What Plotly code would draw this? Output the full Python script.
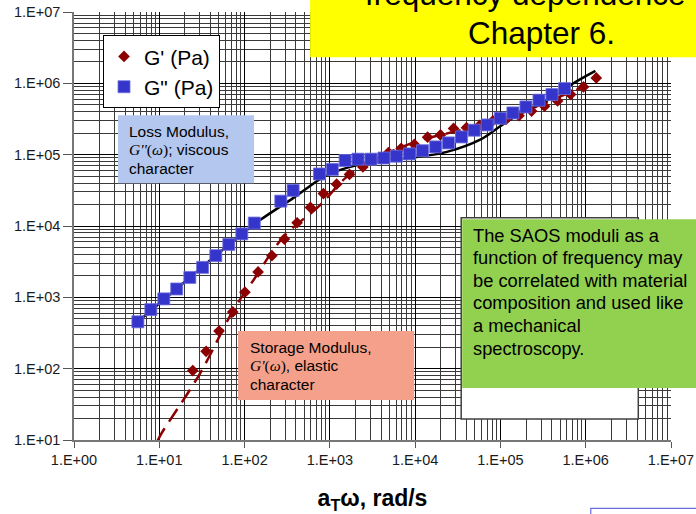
import plotly.graph_objects as go

# Frequency sweep (reduced frequency a_T*omega, rad/s) and moduli, Pa
gp_w = [24.7, 35.4, 50.2, 72.7, 101, 144, 209, 293, 413, 592, 841, 1200, 1700,
        2440, 3440, 4870, 6860, 9800, 14000, 19800, 28200, 40000, 56900, 81700,
        116000, 165000, 232000, 329000, 468000, 665000, 941000, 1330000]
gp = [94, 175, 337, 625, 1180, 2270, 3840, 6550, 11100, 18200, 28500, 38600,
      52800, 67200, 85600, 107000, 123000, 139000, 176000, 189000, 233000,
      239000, 257000, 299000, 311000, 352000, 409000, 478000, 567000, 699000,
      891000, 1190000]

gpp_w = [5.61, 7.96, 11.3, 16.0, 22.8, 32.2, 46.0, 65.3, 92.8, 130, 266, 371,
         755, 1070, 1510, 2140, 3030, 4300, 6040, 8580, 12200, 17400, 24600,
         35000, 49300, 70000, 99500, 140000, 199000, 283000, 402000, 565000]
gpp = [454, 673, 951, 1310, 1900, 2630, 3840, 5520, 7750, 11000, 22300, 31600,
       53600, 62200, 82800, 86500, 86500, 89800, 95200, 102500, 113700, 128500,
       146200, 177400, 220200, 261000, 324300, 384700, 466900, 579600, 696600,
       845100]

# Model curves
gp_fit_w = [9.5, 10.5, 30.1, 73.9, 127, 286, 769, 1580, 4250, 11500, 28200,
            69400, 171000, 351000, 944000]
gp_fit = [9.6, 12.1, 86, 663, 1740, 7050, 19600, 48800, 98300, 159600, 208500,
          273400, 377600, 548900, 890500]
gpp_fit_w = [5.6, 22.8, 92.8, 152, 374, 921, 1730, 3890, 9560, 23600, 57900,
             99500, 171000, 420000, 659000, 1300000]
gpp_fit = [454, 1900, 7750, 12100, 24800, 51600, 67400, 83700, 91300, 109400,
           162100, 250600, 377600, 645000, 940700, 1492000]

decades = [1, 10, 100, 1000, 10000, 100000, 1000000, 10000000]
x_ticktext = ["1.E+00", "1.E+01", "1.E+02", "1.E+03", "1.E+04", "1.E+05", "1.E+06", "1.E+07"]
y_ticktext = ["1.E+01", "1.E+02", "1.E+03", "1.E+04", "1.E+05", "1.E+06", "1.E+07"]

W, H = 696, 514
PL, PR, PT, PB = 74, 670.7, 11.7, 440
FONT = "Liberation Sans, Arial, sans-serif"


def fx(px):
    return (px - PL) / (PR - PL)


def fy(py):
    return (PB - py) / (PB - PT)


RED = "#8b0000"
BLUE = "#3535cc"

fig = go.Figure()
fig.add_trace(go.Scatter(x=gp_fit_w, y=gp_fit, mode="lines", showlegend=False,
                         line=dict(color=RED, width=2.5, dash="15px,8px", shape="spline"),
                         hoverinfo="skip"))
fig.add_trace(go.Scatter(x=gpp_fit_w, y=gpp_fit, mode="lines", showlegend=False,
                         line=dict(color="black", width=2.5, shape="spline"),
                         hoverinfo="skip"))
fig.add_trace(go.Scatter(x=gp_w, y=gp, mode="markers", name="G' (Pa)",
                         marker=dict(symbol="diamond", size=9, color=RED)))
fig.add_trace(go.Scatter(x=gpp_w, y=gpp, mode="markers", name='G" (Pa)',
                         marker=dict(symbol="square", size=12, color=BLUE,
                                     line=dict(color="#7070e0", width=0.8))))

minor_x = [m * d for d in decades[:-1] for m in range(2, 10)]
minor_y = [m * d for d in decades[1:-1] for m in range(2, 10)]

fig.update_xaxes(type="log", range=[0, 7], tickvals=decades, ticktext=x_ticktext,
                 automargin=False,
                 showgrid=True, gridcolor="black", gridwidth=1,
                 ticks="outside", ticklen=6, tickcolor="#555",
                 showline=True, linecolor="#777", linewidth=1.5,
                 tickfont=dict(family=FONT, size=14.5, color="#1a1a1a"),
                 minor=dict(tickvals=minor_x, showgrid=True, gridcolor="#3a3a3a",
                            gridwidth=1, ticks=""),
                 zeroline=False,
                 title=dict(text="<b>a<sub>T</sub>ω, rad/s</b>", standoff=24,
                            font=dict(family=FONT, size=23, color="black")))
fig.update_yaxes(type="log", range=[1, 7], tickvals=decades[1:], ticktext=y_ticktext,
                 automargin=False,
                 showgrid=True, gridcolor="black", gridwidth=1,
                 ticks="outside", ticklen=9, tickcolor="#555",
                 showline=True, linecolor="#777", linewidth=1.5,
                 tickfont=dict(family=FONT, size=14.5, color="#1a1a1a"),
                 minor=dict(tickvals=minor_y, showgrid=True, gridcolor="#3a3a3a",
                            gridwidth=1, ticks=""),
                 zeroline=False)

shapes = [
    # title banner
    dict(type="rect", xref="paper", yref="paper", x0=fx(310), x1=fx(720),
         y0=fy(57), y1=fy(-20), fillcolor="#ffff00", line=dict(width=0), layer="above"),
    # loss modulus note
    dict(type="rect", xref="paper", yref="paper", x0=fx(118), x1=fx(254),
         y0=fy(183), y1=fy(115), fillcolor="#b4c7ee", line=dict(width=0), layer="above"),
    # storage modulus note
    dict(type="rect", xref="paper", yref="paper", x0=fx(238), x1=fx(414),
         y0=fy(400), y1=fy(331), fillcolor="#f4a08b", line=dict(width=0), layer="above"),
    # framed panel behind the green note
    dict(type="rect", xref="paper", yref="paper", x0=fx(461), x1=fx(638),
         y0=fy(419), y1=fy(217.5), fillcolor="white",
         line=dict(color="#404040", width=1.5), layer="above"),
    # green note
    dict(type="rect", xref="paper", yref="paper", x0=fx(462), x1=fx(720),
         y0=fy(388), y1=fy(219), fillcolor="#92d050", line=dict(width=0), layer="above"),
    # outline at lower right
    dict(type="rect", xref="paper", yref="paper", x0=fx(590.5), x1=fx(720),
         y0=fy(540), y1=fy(508.5), fillcolor="rgba(0,0,0,0)",
         line=dict(color="#6b6be0", width=1.2), layer="above"),
]

annotations = []


def note(text, px, py, size, anchor="left", color="black"):
    annotations.append(dict(text=text, xref="paper", yref="paper", x=fx(px), y=fy(py),
                            xanchor=anchor, yanchor="middle", showarrow=False,
                            font=dict(family=FONT, size=size, color=color)))


MATH = "font-family:'Liberation Serif', 'DejaVu Serif', serif"

note("frequency dependence", 525, -6, 31.5, anchor="center")
note("Chapter 6.", 541, 33, 31.5, anchor="center")

note("Loss Modulus,", 127, 131.5, 15.5)
note(f"<span style=\"{MATH}\"><i>G''</i>(<i>ω</i>)</span>; viscous", 127, 150, 15.5)
note("character", 127, 168.5, 15.5)

note("Storage Modulus,", 247.5, 347, 15.5)
note(f"<span style=\"{MATH}\"><i>G'</i>(<i>ω</i>)</span>, elastic", 247.5, 366, 15.5)
note("character", 247.5, 384.5, 15.5)

for i, line in enumerate(["The SAOS moduli as a", "function of frequency may",
                          "be correlated with material", "composition and used like",
                          "a mechanical", "spectroscopy."]):
    note(line, 471, 235 + 22.6 * i, 18.3)

fig.update_layout(
    width=W, height=H,
    margin=dict(l=PL, r=W - PR, t=PT, b=H - PB, pad=0),
    paper_bgcolor="white", plot_bgcolor="white",
    font=dict(family=FONT, color="black"),
    shapes=shapes, annotations=annotations,
    legend=dict(x=fx(103), y=fy(35), xanchor="left", yanchor="top",
                bgcolor="white", bordercolor="black", borderwidth=1,
                font=dict(family=FONT, size=21, color="black"),
                tracegroupgap=0, itemwidth=30),
)

fig.write_html("out.html")
